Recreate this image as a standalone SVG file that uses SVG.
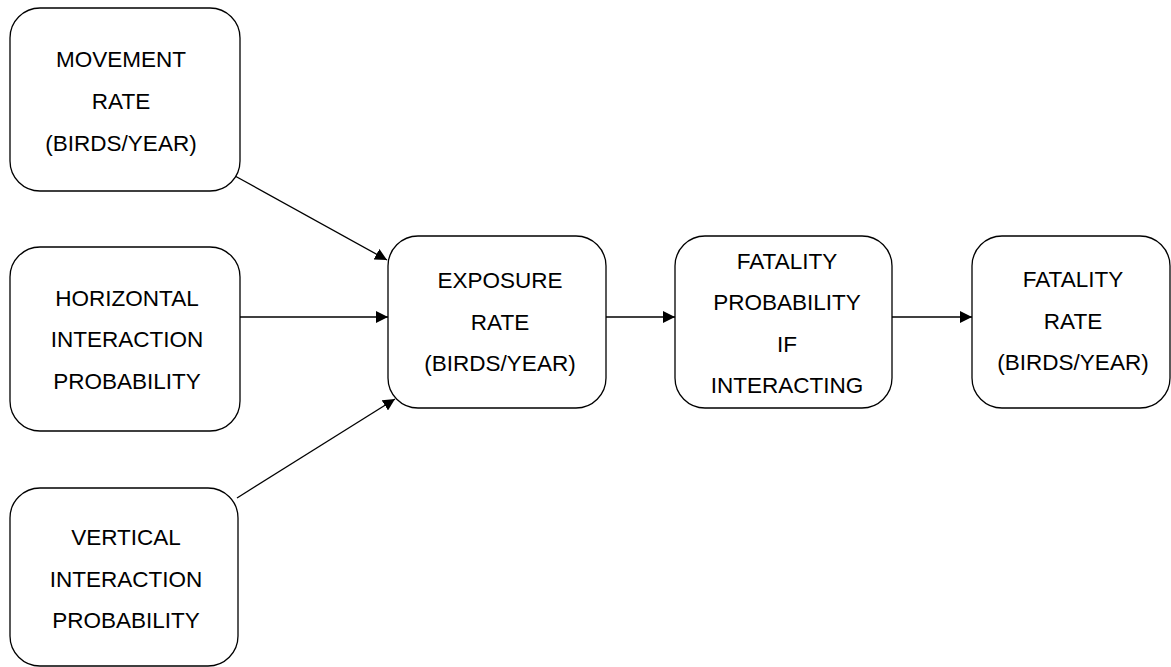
<svg xmlns="http://www.w3.org/2000/svg" width="1171" height="667" viewBox="0 0 1171 667">
<style>
.box{fill:#fff;stroke:#000;stroke-width:1.3}
.t{font-family:"Liberation Sans",Arial,sans-serif;font-size:22.5px;fill:#000;text-anchor:middle}
.c{stroke:#000;stroke-width:1.3;fill:none;marker-end:url(#ah)}
</style>
<defs>
<marker id="ah" viewBox="0 0 10 10" refX="10" refY="5" markerWidth="12" markerHeight="12" markerUnits="userSpaceOnUse" orient="auto">
<path d="M0,0 L10,5 L0,10 z" fill="#000"/>
</marker>
</defs>
<rect width="1171" height="667" fill="#fff"/>
<g id="connectors">
<line class="c" x1="235" y1="176" x2="387" y2="260"/>
<line class="c" x1="240" y1="317" x2="388" y2="317"/>
<line class="c" x1="237" y1="498" x2="395" y2="399"/>
<line class="c" x1="606" y1="317" x2="675" y2="317"/>
<line class="c" x1="892" y1="317" x2="972" y2="317"/>
</g>
<g id="movement">
<rect class="box" x="10" y="8" width="230" height="183" rx="30"/>
<text class="t" x="121" y="67">MOVEMENT</text>
<text class="t" x="121" y="109">RATE</text>
<text class="t" x="121" y="151">(BIRDS/YEAR)</text>
</g>
<g id="horizontal">
<rect class="box" x="10" y="247" width="230" height="184" rx="30"/>
<text class="t" x="127" y="306">HORIZONTAL</text>
<text class="t" x="127" y="347">INTERACTION</text>
<text class="t" x="127" y="389">PROBABILITY</text>
</g>
<g id="vertical">
<rect class="box" x="10" y="488" width="228" height="178" rx="30"/>
<text class="t" x="126" y="545">VERTICAL</text>
<text class="t" x="126" y="587">INTERACTION</text>
<text class="t" x="126" y="628">PROBABILITY</text>
</g>
<g id="exposure">
<rect class="box" x="388" y="236" width="218" height="172" rx="30"/>
<text class="t" x="500" y="288">EXPOSURE</text>
<text class="t" x="500" y="330">RATE</text>
<text class="t" x="500" y="371">(BIRDS/YEAR)</text>
</g>
<g id="fatality-prob">
<rect class="box" x="675" y="236" width="217" height="172" rx="30"/>
<text class="t" x="787" y="269">FATALITY</text>
<text class="t" x="787" y="310">PROBABILITY</text>
<text class="t" x="787" y="352">IF</text>
<text class="t" x="787" y="393">INTERACTING</text>
</g>
<g id="fatality-rate">
<rect class="box" x="972" y="236" width="198" height="172" rx="30"/>
<text class="t" x="1073" y="287">FATALITY</text>
<text class="t" x="1073" y="329">RATE</text>
<text class="t" x="1073" y="370">(BIRDS/YEAR)</text>
</g>
</svg>
